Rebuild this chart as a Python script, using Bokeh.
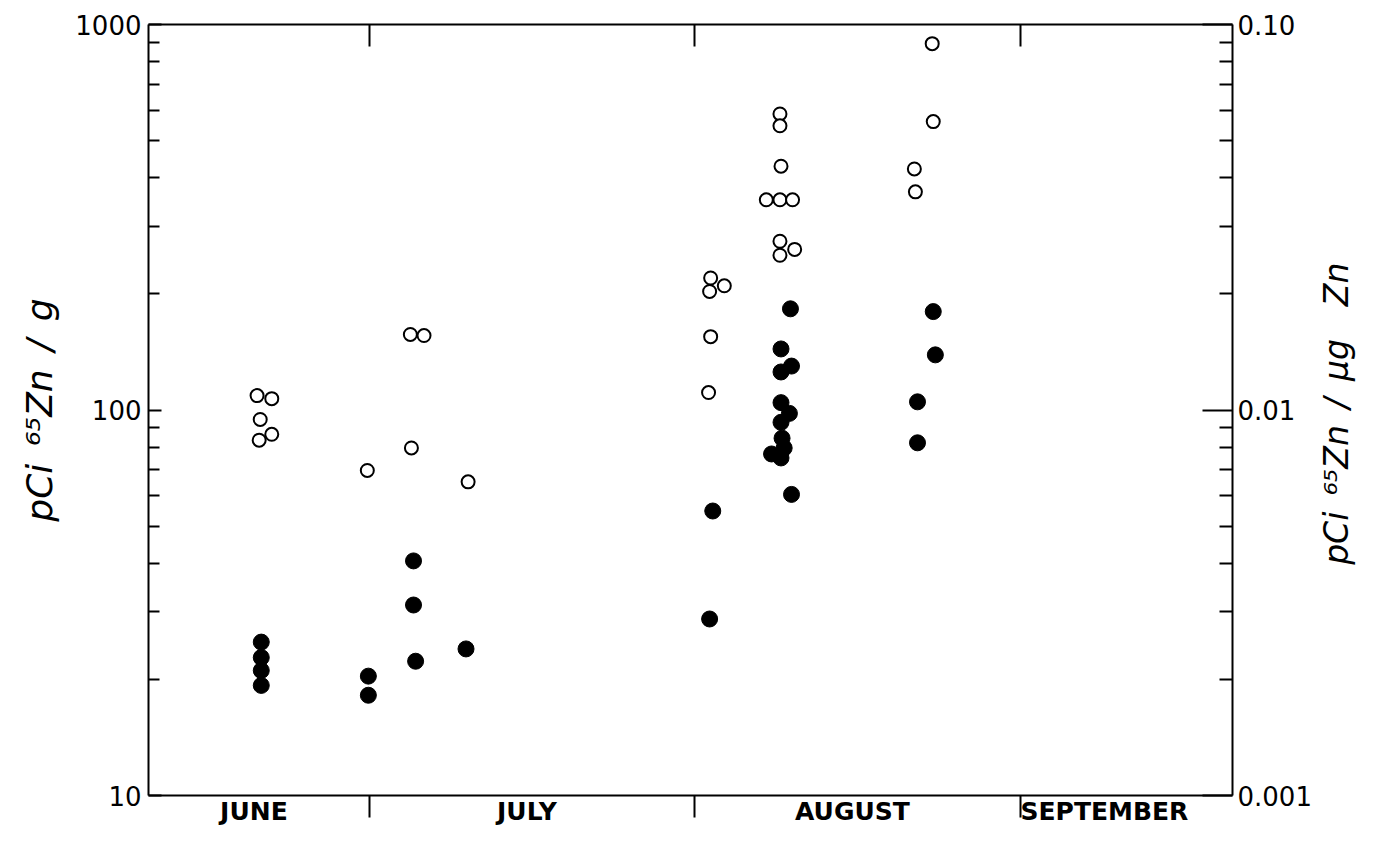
import math
from bokeh.plotting import figure
from bokeh.layouts import row
from bokeh.models import Range1d, LogScale, LogAxis, LinearAxis, FixedTicker
from bokeh.core.properties import value
from bokeh.embed import file_html
from bokeh.resources import INLINE

# ---- data (x = days counted from June 1) ----
month_names = ["JUNE", "JULY", "AUGUST", "SEPTEMBER"]
month_label_day = [19, 45, 76, 100]
month_start_day = [30, 61, 92]          # July 1, August 1, September 1

# open circles
open_day = [19.3, 20.7, 19.6, 20.7, 19.5,
            29.8,
            33.9, 35.2, 34.0,
            39.4,
            62.5, 62.4, 63.8, 62.5, 62.3,
            69.1, 69.1, 69.2, 67.8, 69.1, 70.3, 69.1, 70.5, 69.1,
            83.6, 83.7, 81.9, 82.0]
open_value = [109, 107, 94.5, 86.5, 83.5,
              69.7,
              157, 156, 79.7,
              65.1,
              220, 203, 210, 155, 111,
              586, 546, 429, 351, 351, 351, 274, 261, 252,
              892, 560, 422, 368]

# filled circles
filled_day = [19.7, 19.7, 19.7, 19.7,
              29.9, 29.9,
              34.2, 34.2, 34.4,
              39.2,
              62.7, 62.4,
              70.1, 69.2, 70.2, 69.2, 69.2, 70.0, 69.2, 69.3, 69.5, 68.3, 69.2, 70.2,
              83.7, 83.9, 82.2, 82.2]
filled_value = [25.0, 22.8, 21.1, 19.3,
                20.4, 18.2,
                40.6, 31.2, 22.3,
                24.0,
                54.7, 28.7,
                183, 144, 130, 125.5, 104.5, 98, 92.9, 84.5, 79.7, 76.9, 75.1, 60.4,
                180, 139, 105, 82.2]

left_ticks = [10, 100, 1000]
left_minor = [20, 30, 40, 50, 60, 70, 80, 90, 200, 300, 400, 500, 600, 700, 800, 900]
right_ticks = [0.001, 0.01, 0.1]
right_tick_labels = ["0.001", "0.01", "0.10"]
right_minor = [0.002, 0.003, 0.004, 0.005, 0.006, 0.007, 0.008, 0.009,
               0.02, 0.03, 0.04, 0.05, 0.06, 0.07, 0.08, 0.09]

left_title = "pCi\u2002\u2076\u2075Zn\u2002/\u2002g"
right_title = "pCi\u2002\u2076\u2075Zn\u2002/\u2002\u03bcg\u2003Zn"

FONT = "DejaVu Sans"

TITLE_W = 44
W, H = 1358 - TITLE_W, 828
BL, BR, BT, BB = 148, 1358 - TITLE_W - 1237, 24, 31

p = figure(width=W, height=H,
           x_range=Range1d(8.96, 112.2), y_range=Range1d(10, 1000),
           y_axis_type="log", output_backend="svg", toolbar_location=None,
           min_border_left=BL, min_border_right=BR,
           min_border_top=BT, min_border_bottom=BB)
p.grid.visible = False
p.outline_line_color = None
p.background_fill_color = "white"
p.border_fill_color = "white"

# bottom axis: month names centered, boundary ticks as minor ticks
xa = p.xaxis[0]
xa.ticker = FixedTicker(ticks=month_label_day, minor_ticks=month_start_day)
xa.major_label_overrides = {d: n for d, n in zip(month_label_day, month_names)}
xa.major_tick_in = 0
xa.major_tick_out = 0
xa.minor_tick_in = 0
xa.minor_tick_out = 22
xa.minor_tick_line_width = 2
xa.axis_line_width = 2
xa.major_label_standoff = -21
xa.major_label_text_font = FONT
xa.major_label_text_font_style = "bold"
xa.major_label_text_font_size = "25px"
xa.major_label_text_color = "black"

# top axis: boundary ticks pointing inward
ta = LinearAxis(ticker=FixedTicker(ticks=[], minor_ticks=month_start_day),
                major_label_text_font_size="0px", major_label_standoff=0,
                major_tick_in=0, major_tick_out=0,
                minor_tick_in=22, minor_tick_out=0, minor_tick_line_width=2,
                axis_line_width=2)
p.add_layout(ta, "above")

# left axis
ya = p.yaxis[0]
ya.ticker = FixedTicker(ticks=left_ticks, minor_ticks=left_minor)
ya.major_label_overrides = {t: str(t) for t in left_ticks}
ya.major_tick_in = 13
ya.major_tick_out = 0
ya.minor_tick_in = 11
ya.minor_tick_out = 0
ya.major_tick_line_width = 2
ya.minor_tick_line_width = 2
ya.axis_line_width = 2
ya.major_label_standoff = 7
ya.major_label_text_font = FONT
ya.major_label_text_font_size = "26px"
ya.major_label_text_color = "black"
ya.axis_label = left_title
ya.axis_label_text_font = FONT
ya.axis_label_text_font_style = "italic"
ya.axis_label_text_font_size = "36px"
ya.axis_label_text_color = "black"
ya.axis_label_standoff = 12

# right axis
p.extra_y_ranges = {"ratio": Range1d(0.001, 0.1)}
p.extra_y_scales = {"ratio": LogScale()}
ra = LogAxis(y_range_name="ratio",
             ticker=FixedTicker(ticks=right_ticks, minor_ticks=right_minor),
             major_label_overrides={t: s for t, s in zip(right_ticks, right_tick_labels)},
             major_tick_in=30, major_tick_out=0,
             minor_tick_in=13, minor_tick_out=0,
             major_tick_line_width=2, minor_tick_line_width=2,
             axis_line_width=2, major_label_standoff=5,
             major_label_text_font=FONT, major_label_text_font_size="26px",
             major_label_text_color="black")
p.add_layout(ra, "right")

p.scatter(filled_day, filled_value, marker="circle", size=16,
          fill_color="black", line_color="black", line_width=1)
p.scatter(open_day, open_value, marker="circle", size=13,
          fill_color="white", line_color="black", line_width=2)

# narrow side panel holding the right-hand axis title (reads bottom-to-top)
t = figure(width=TITLE_W, height=H, x_range=Range1d(0, 1), y_range=Range1d(0, H),
           output_backend="svg", toolbar_location=None,
           min_border_left=0, min_border_right=0, min_border_top=0, min_border_bottom=0)
t.axis.visible = False
t.grid.visible = False
t.outline_line_color = None
t.background_fill_color = "white"
t.border_fill_color = "white"
t.text(x=[0.5], y=[H - 418], text=[right_title], angle=math.pi / 2,
       text_align="center", text_baseline="middle",
       text_font=value(FONT), text_font_style="italic",
       text_font_size="33px", text_color="black")

open("out.html", "w").write(file_html(row(p, t), INLINE))
